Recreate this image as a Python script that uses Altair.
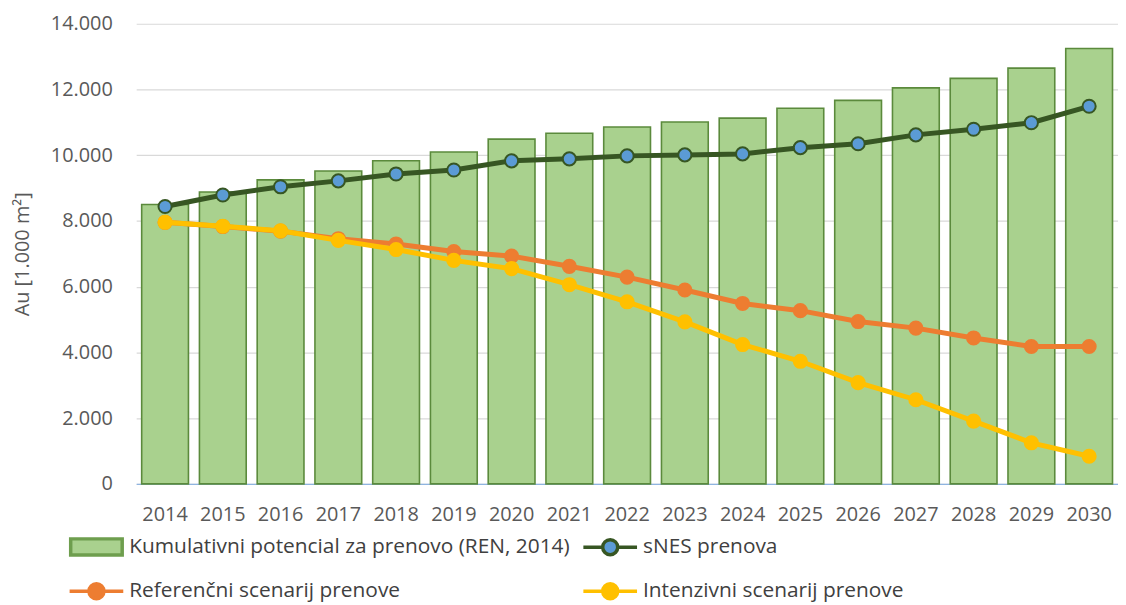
import altair as alt
import pandas as pd

years = ["2014", "2015", "2016", "2017", "2018", "2019", "2020", "2021", "2022",
         "2023", "2024", "2025", "2026", "2027", "2028", "2029", "2030"]
potencial = [8500, 8880, 9250, 9520, 9830, 10100, 10490, 10670, 10860, 11010,
             11130, 11430, 11670, 12050, 12340, 12650, 13250]
snes = [8440, 8790, 9040, 9220, 9430, 9550, 9830, 9890, 9980, 10010,
        10040, 10230, 10350, 10620, 10790, 10990, 11490]
referencni = [7960, 7830, 7690, 7460, 7300, 7070, 6930, 6620, 6290, 5900,
              5490, 5270, 4940, 4740, 4440, 4180, 4180]
intenzivni = [7960, 7840, 7700, 7410, 7130, 6800, 6550, 6060, 5540, 4930,
              4240, 3730, 3080, 2560, 1910, 1250, 840]

# legend is filled column by column: (col 1: Kumulativni, Referenčni), (col 2: sNES, Intenzivni)
series_names = ["Kumulativni potencial za prenovo (REN, 2014)", "Referenčni scenarij prenove",
                "sNES prenova", "Intenzivni scenarij prenove"]
fill_colors = ["#A9D18E", "#ED7D31", "#5B9BD5", "#FFC000"]
stroke_colors = ["#6E9E4E", "#ED7D31", "#375623", "#FFC000"]

line_sym = "M-1,0H-0.28M0.28,0H1M-0.28,0A0.28,0.28,0,1,0,0.28,0A0.28,0.28,0,1,0,-0.28,0Z"
bar_sym = "M-0.96,-0.3H0.96V0.3H-0.96Z"
shapes = [bar_sym, line_sym, line_sym, line_sym]

data_by_series = {
    series_names[0]: potencial,
    series_names[2]: snes,
    series_names[1]: referencni,
    series_names[3]: intenzivni,
}
rows = []
for name, vals in data_by_series.items():
    for y, v in zip(years, vals):
        rows.append({"year": y, "value": v, "series": name})
df = pd.DataFrame(rows)

FONT = "Open Sans"

legend = alt.Legend(
    title=None, orient="none", legendX=-69, legendY=497, columns=2,
    columnPadding=6, rowPadding=-15, labelFont=FONT, labelFontSize=21,
    labelColor="#404040", labelLimit=700, labelOffset=4,
    symbolSize=2916, symbolStrokeWidth=3.5, gridAlign="each",
)

fill_scale = alt.Scale(domain=series_names, range=fill_colors)
stroke_scale = alt.Scale(domain=series_names, range=stroke_colors)
shape_scale = alt.Scale(domain=series_names, range=shapes)

x_enc = alt.X("year:O", sort=years,
              scale=alt.Scale(paddingInner=0.19, paddingOuter=0.095),
              axis=alt.Axis(title=None, labelAngle=0, labelFont=FONT, labelFontSize=20,
                            labelColor="#595959", ticks=False, labelPadding=21,
                            domainColor="#8FB4E0", domainWidth=1.5, grid=False))
y_enc = alt.Y("value:Q", scale=alt.Scale(domain=[0, 14000], nice=False),
              axis=alt.Axis(title="Au [1.000 m²]", values=[0, 2000, 4000, 6000, 8000, 10000, 12000, 14000],
                            labelExpr="replace(format(datum.value, ','), ',', '.')",
                            labelFont=FONT, labelFontSize=20, labelColor="#595959",
                            titleFont=FONT, titleFontSize=20, titleColor="#595959",
                            titleFontWeight="normal", titlePadding=18,
                            ticks=False, domain=False, labelPadding=24,
                            gridColor="#D9D9D9", gridWidth=1.2))

base = alt.Chart(df)

bars = base.transform_filter(alt.datum.series == series_names[0]).mark_bar(
    stroke="#5B8A3C", strokeWidth=1.6
).encode(
    x=x_enc, y=y_enc,
    fill=alt.Fill("series:N", scale=fill_scale, legend=legend),
)

legend_layer = base.transform_filter(alt.datum.value < 0).mark_point(filled=True).encode(
    x=alt.X("year:O", sort=years), y="value:Q",
    fill=alt.Fill("series:N", scale=fill_scale, legend=legend),
    stroke=alt.Stroke("series:N", scale=stroke_scale, legend=legend),
    shape=alt.Shape("series:N", scale=shape_scale, legend=legend),
)

layers = [bars, legend_layer]
# drawing order: sNES, Referenčni, Intenzivni (yellow on top)
for name in [series_names[2], series_names[1], series_names[3]]:
    sub = base.transform_filter(alt.datum.series == name)
    line = sub.mark_line(strokeWidth=5).encode(
        x=alt.X("year:O", sort=years), y="value:Q",
        stroke=alt.Stroke("series:N", scale=stroke_scale, legend=legend),
    )
    pts = sub.mark_circle(size=175, opacity=1, strokeWidth=2).encode(
        x=alt.X("year:O", sort=years), y="value:Q",
        fill=alt.Fill("series:N", scale=fill_scale, legend=legend),
        stroke=alt.Stroke("series:N", scale=stroke_scale, legend=legend),
    )
    layers += [line, pts]

chart = alt.layer(*layers).properties(
    width=988, height=463,
    padding={"left": 129, "top": 14, "right": 0, "bottom": 118},
    autosize=alt.AutoSizeParams(type="none"),
).configure_view(stroke=None)

chart.save("out.html", embed_options={"renderer": "svg", "actions": False})
